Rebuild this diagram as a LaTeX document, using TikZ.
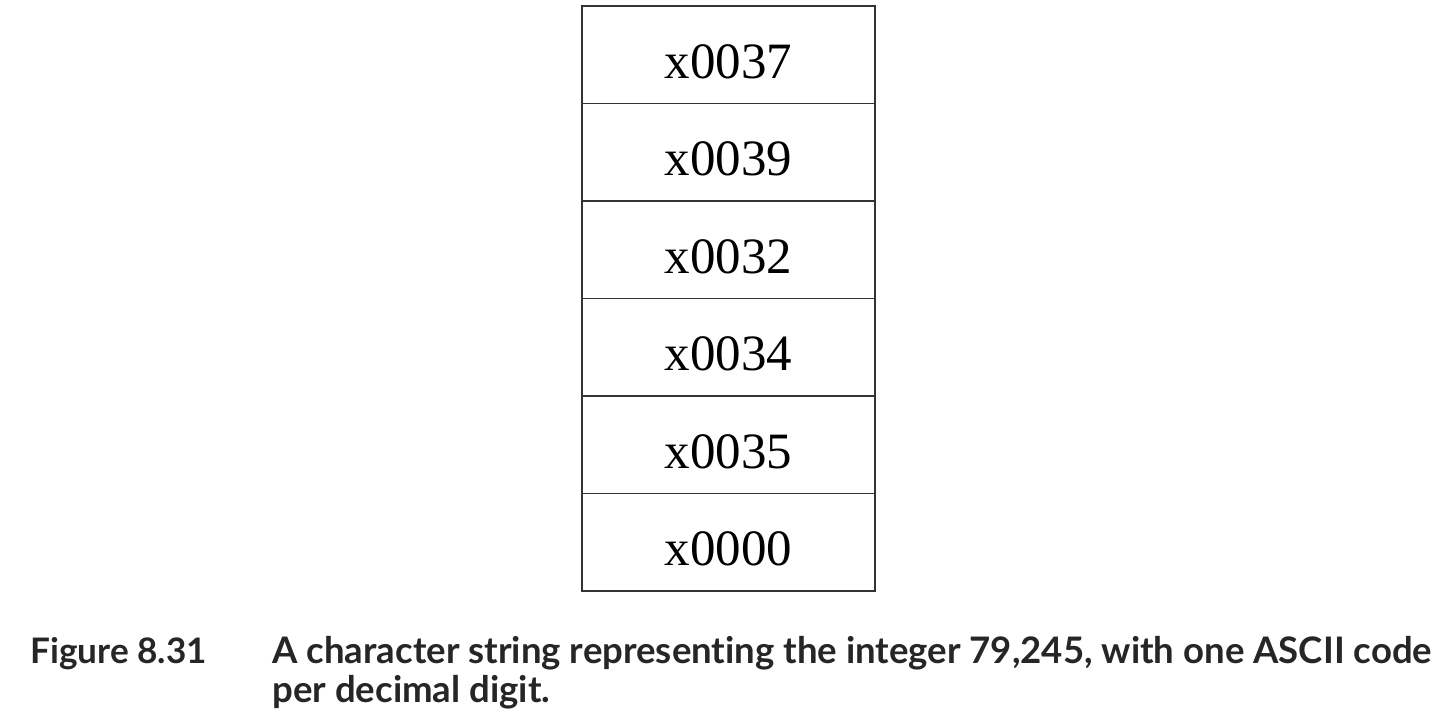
\documentclass[tikz,border=0pt]{standalone}
\usepackage{fontspec}
\setmainfont{Liberation Serif}
\newfontfamily\capfont[Ligatures=NoCommon]{Lato}

\begin{document}
\begin{tikzpicture}
      \tikzset { cell/.style = { shape=rectangle,draw=black!80,line width=0.8pt,
        minimum width=5.86cm,minimum height=1.95cm,inner sep=0pt,outer sep=0pt,
        text height=0.94cm,text depth=0cm,font=\fontsize{29}{30}\selectfont } }
      \tikzset { captext/.style = { anchor=base west,inner sep=0pt,
        font=\capfont\bfseries\fontsize{20}{24}\selectfont,text=black!85 } }
      \tikzset { capwide/.style = { captext,
        font=\capfont\bfseries\fontsize{20.8}{24}\selectfont } }

      \useasboundingbox (0,0) rectangle (28.96,14.36);

      \foreach \code [count=\i] in {x0037,x0039,x0032,x0034,x0035,x0000}
        \node[cell] (c\i) at (14.57,{14.24-1.95*(\i-0.5)}) {\code\hspace{0.15cm}};

      \node[captext] (figlabel) at (0.6,1.08) {Figure 8.31};
      \node[capwide] (capline1) at (5.44,1.08)
        {A character string representing the integer 79,245, with one ASCII code};
      \node[capwide] (capline2) at (5.44,0.30) {per decimal digit.};

    \end{tikzpicture}
\end{document}
